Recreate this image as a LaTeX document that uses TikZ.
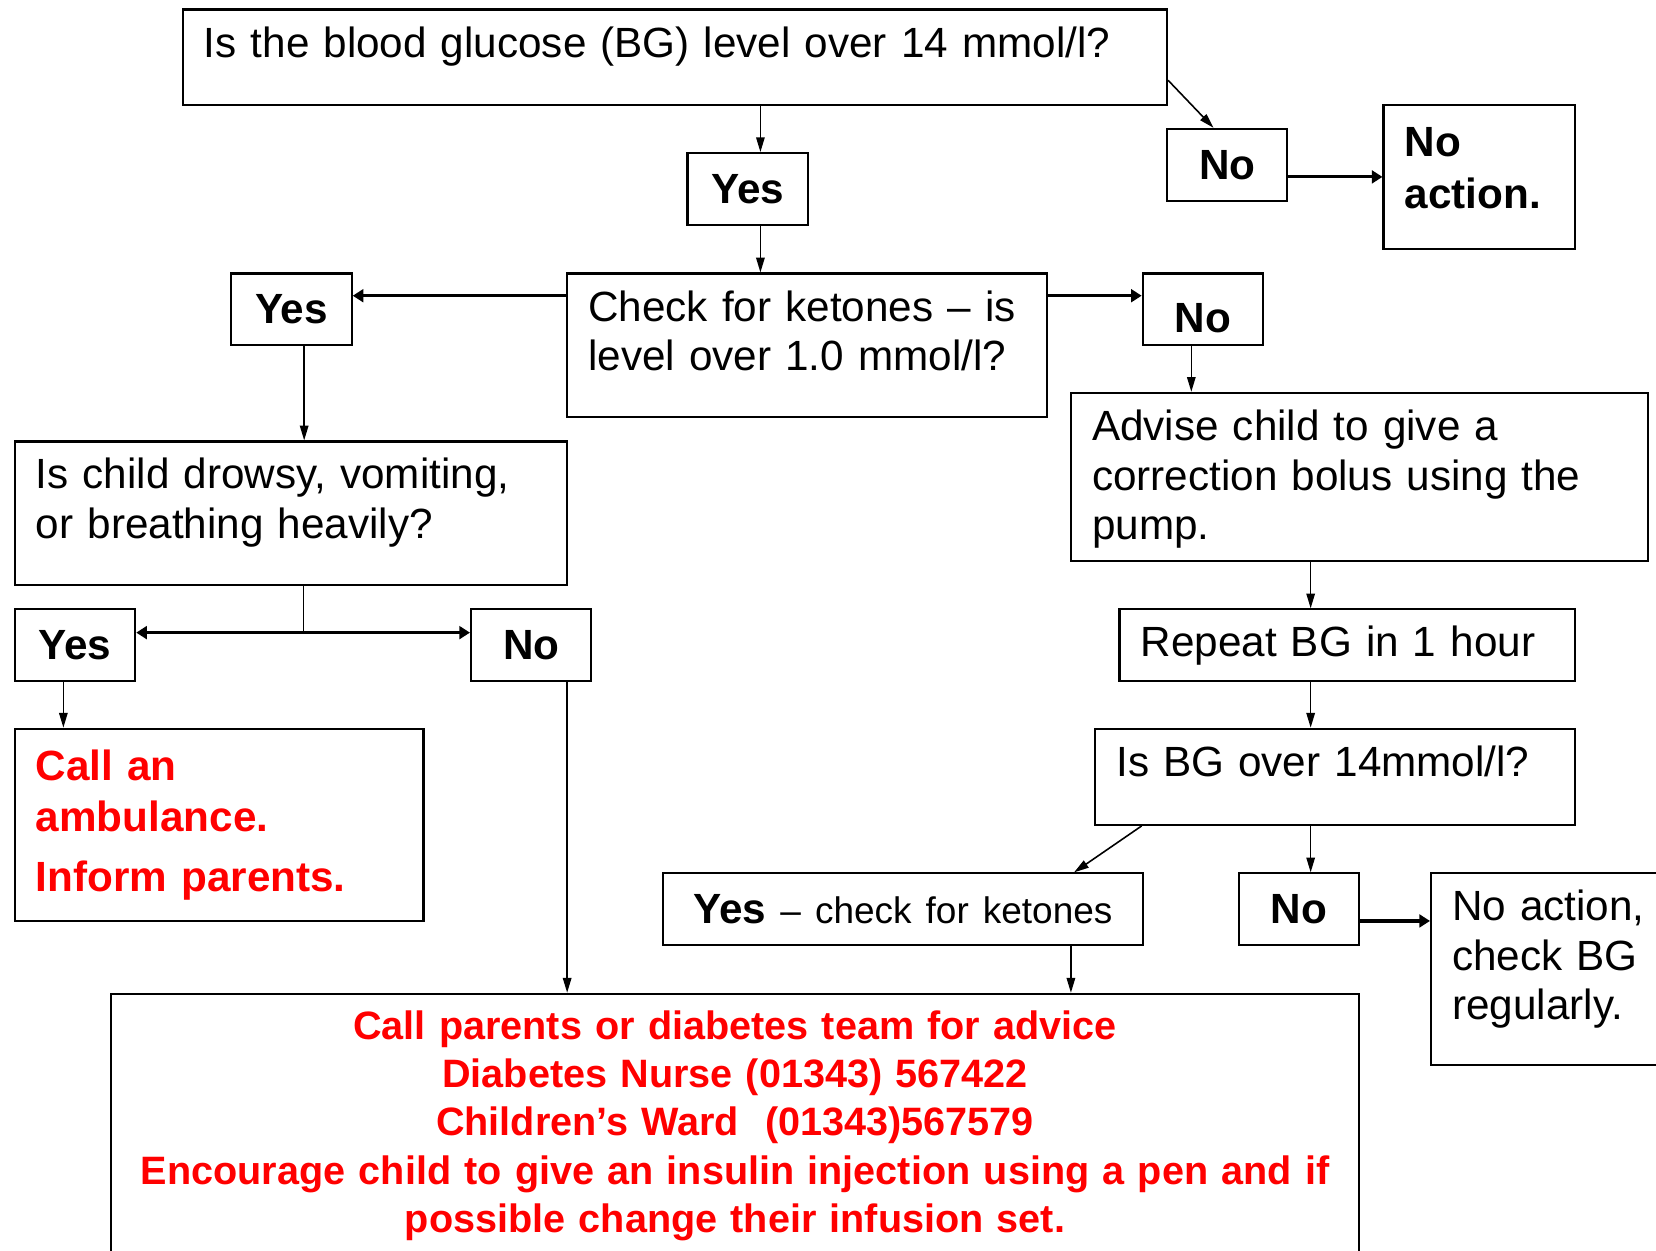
\documentclass[tikz,border=0pt]{standalone}
\usepackage{fontspec}
\setmainfont{Liberation Sans}
\usetikzlibrary{arrows.meta}

\begin{document}
\begin{tikzpicture}
			[x=0.5pt,y=-0.5pt,
			base/.style={draw,line width=1pt,anchor=north west,inner xsep=10pt,inner ysep=0pt,font=\fontsize{20}{23.5}\selectfont},
			box/.style 2 args={base,minimum width=#1pt,minimum height=#2pt,text width=#1pt-20pt,align=left},
			lift/.style 2 args={text height=#1pt,text depth=#2pt},
			yn/.style={base,minimum width=57pt,minimum height=34pt,font=\fontsize{20}{23.5}\selectfont\bfseries},
			warn/.style={text=red,font=\fontsize{20}{24}\selectfont\bfseries},
			arr/.style={-{Triangle[length=7pt,width=4pt]},line width=0.75pt},
			fat/.style={-{Triangle[length=5pt,width=6pt]},line width=1.5pt},
			dfat/.style={{Triangle[length=5pt,width=6pt]}-{Triangle[length=5pt,width=6pt]},line width=1.5pt}]
			\useasboundingbox (0,0) rectangle (1568,1184);
			\node[box={466}{45},lift={22.5}{22.5}] (top) at (172,8) {Is the blood glucose (BG) level over 14 mmol/l?};
			\node[yn] (yesA) at (650,144) {Yes};
			\node[yn] (noA) at (1104,121) {No};
			\node[box={90.5}{68.5},lift={24.5}{44},font=\fontsize{20}{24.5}\selectfont\bfseries] (actA) at (1309,98) {No\\action.};
			\node[box={227}{68},lift={22.5}{45.5}] (chk) at (536,258) {Check for ketones – is\\level over 1.0 mmol/l?};
			\node[yn] (yesB) at (218,258) {Yes};
			\node[yn,lift={28}{6}] (noB) at (1081,258) {No};
			\node[box={261.5}{68},lift={22.5}{45.5}] (drow) at (13,417) {Is child drowsy, vomiting,\\or breathing heavily?};
			\node[box={273}{79.5},lift={22.5}{57}] (adv) at (1013,371) {Advise child to give a\\correction bolus using the\\pump.};
			\node[yn] (yesC) at (13,576) {Yes};
			\node[yn] (noC) at (445,576) {No};
			\node[box={193.5}{91},warn] (amb) at (13,689) {Call an\\ambulance.\\[4.5pt]Inform parents.};
			\node[box={215.5}{34}] (rep) at (1059,576) {Repeat BG in 1 hour};
			\node[box={227}{45.5},lift={22.5}{23}] (isbg) at (1036,689) {Is BG over 14mmol/l?};
			\node[box={227}{34},align=center] (yesD) at (627,826) {\textbf{Yes} {\fontsize{17.5}{21}\selectfont– check for ketones}};
			\node[yn] (noD) at (1172,826) {No};
			\node[box={123}{90.5},lift={22.5}{68},font=\fontsize{20}{23.25}\selectfont] (actB) at (1354,826) {No action,\\check BG\\regularly.};
			\node[box={591}{125},warn,align=center,font=\fontsize{18.75}{22.75}\selectfont\bfseries] (call) at (104,940)
				{Call parents or diabetes team for advice\\Diabetes Nurse (01343) 567422\\Children’s Ward\ \ (01343)567579\\Encourage child to give an insulin injection using a pen and if\\possible change their infusion set.};
			\coordinate (a1) at ([xshift=6pt]yesA.north);
			\coordinate (a2) at ([yshift=-11pt]top.east);
			\coordinate (a3) at ([xshift=-6.5pt]noA.north);
			\draw[arr] (top.south -| a1) -- (a1);
			\draw[arr] (yesA.south -| a1) -- (chk.north -| a1);
			\draw[arr] (a2) -- (a3);
			\draw[fat] (noA.east |- actA.west) -- (actA.west);
			\coordinate (b1) at ([yshift=-11pt]chk.north west);
			\coordinate (b2) at ([yshift=-11pt]chk.north east);
			\coordinate (b3) at ([xshift=6pt]yesB.south);
			\coordinate (b4) at ([xshift=-5.5pt]noB.south);
			\draw[fat] (b1) -- (b1 -| yesB.east);
			\draw[fat] (b2) -- (b2 -| noB.west);
			\draw[arr] (b3) -- (drow.north -| b3);
			\draw[arr] (b4) -- (adv.north -| b4);
			\coordinate (c1) at ([xshift=6pt]drow.south);
			\coordinate (c2) at ([yshift=6pt]yesC.east);
			\coordinate (c3) at ([xshift=-5.5pt]yesC.south);
			\coordinate (c4) at ([xshift=17pt]noC.south);
			\draw[line width=0.75pt] (c1) -- (c1 |- c2);
			\draw[dfat] (c2) -- (c2 -| noC.west);
			\draw[arr] (c3) -- (amb.north -| c3);
			\draw[arr] (c4) -- (call.north -| c4);
			\coordinate (d1) at ([xshift=-23pt]adv.south);
			\coordinate (d2) at ([xshift=22.5pt]isbg.south west);
			\coordinate (d3) at ([xshift=-33pt]yesD.north east);
			\coordinate (d4) at ([yshift=-5.5pt]noD.east);
			\coordinate (d5) at ([xshift=79.5pt]yesD.south);
			\draw[arr] (d1) -- (rep.north -| d1);
			\draw[arr] (rep.south -| d1) -- (isbg.north -| d1);
			\draw[arr] (d2) -- (d3);
			\draw[arr] (isbg.south -| d1) -- (noD.north -| d1);
			\draw[fat] (d4) -- (d4 -| actB.west);
			\draw[arr] (d5) -- (call.north -| d5);
		\end{tikzpicture}
\end{document}
